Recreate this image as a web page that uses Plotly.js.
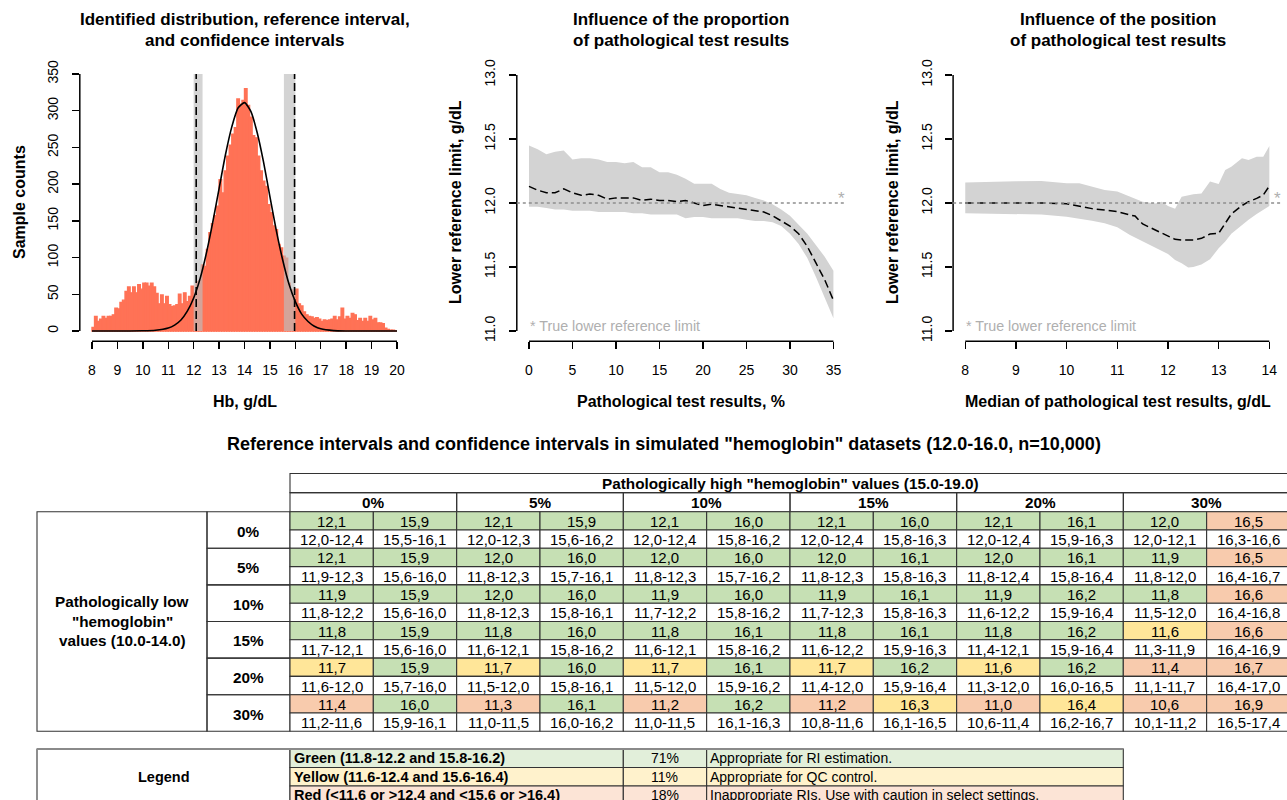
<!DOCTYPE html>
<html><head><meta charset="utf-8">
<script src="https://cdn.plot.ly/plotly-3.0.1.min.js"></script>
<style>html,body{margin:0;padding:0;background:#fff}#chart{width:1287px;height:800px}</style>
</head><body><div id="chart"></div>
<script>
// ---------------- DATA ----------------
// Panel 1: histogram of Hb values (bins of 0.1 g/dL starting at 8.0)
const histStart = 8.0;
const histBinWidth = 0.1;
const histCounts = [
  5,20,13,16,20,17,20,20,22,31,
  30,39,42,54,60,52,60,52,63,57,
  65,65,61,65,60,51,37,49,37,47,
  36,33,34,36,50,37,52,40,47,61,
  52,67,69,90,88,111,134,146,157,170,
  206,188,218,238,253,268,277,316,309,314,
  330,307,291,266,263,238,218,204,197,172,
  161,143,138,118,113,102,99,65,56,49,
  57,37,34,26,22,20,19,17,18,16,
  13,15,14,15,16,20,15,19,31,16,
  20,17,24,22,14,17,13,17,13,20,
  15,17,11,11,10,4,2,1,1,0];
// identified distribution
const curveX = [8,9,10,10.5,11,11.25,11.5,11.75,12,12.25,12.5,12.75,13,13.25,13.5,13.75,14,14.25,14.5,14.75,15,15.25,15.5,15.75,16,16.25,16.5,16.75,17,17.5,18,19,20];
const curveY = [0,0,0.3,1,4,8,15,27,45,71,106,148,194,240,278,304,311,299,270,230,183,137,97,64,40,23,13,6.5,3,0.6,0.1,0,0];
const riLimits = [12.1, 15.97];        // reference limits (dashed)
const ciLowerLimit = [12.0, 12.35];    // CI of lower limit (grey band)
const ciUpperLimit = [15.55, 16.0];    // CI of upper limit (grey band)
const histXTicks = [8,9,10,11,12,13,14,15,16,17,18,19,20];
const histYTicks = [0,50,100,150,200,250,300,350];

// Panel 2: influence of proportion of pathological results
const propX = [0,1,2,3,4,5,6,7,8,9,10,11,12,13,14,15,16,17,18,19,20,21,22,23,24,25,26,27,28,29,30,31,32,33,34,35];
const propMedian = [12.13,12.10,12.08,12.08,12.11,12.08,12.06,12.07,12.06,12.03,12.04,12.04,12.04,12.02,12.03,12.02,12.02,12.01,12.02,12.00,11.98,11.99,11.98,11.97,11.96,11.95,11.94,11.93,11.90,11.86,11.82,11.76,11.66,11.53,11.40,11.24];
const propUpper = [12.45,12.42,12.38,12.40,12.41,12.34,12.35,12.35,12.34,12.32,12.32,12.31,12.32,12.28,12.28,12.24,12.24,12.22,12.19,12.15,12.15,12.15,12.11,12.08,12.07,12.06,12.04,12.02,11.99,11.95,11.90,11.83,11.76,11.67,11.58,11.47];
const propLower = [11.97,11.97,11.96,11.95,11.95,11.94,11.94,11.94,11.93,11.93,11.93,11.93,11.92,11.92,11.91,11.91,11.91,11.91,11.88,11.89,11.89,11.88,11.88,11.88,11.88,11.87,11.86,11.86,11.85,11.82,11.76,11.68,11.57,11.42,11.26,11.10];
const propTicks = [0,5,10,15,20,25,30,35];

// Panel 3: influence of position of pathological results
const posX = [8,8.5,9,9.5,10,10.25,10.5,10.75,11,11.25,11.35,11.5,11.75,11.88,12,12.14,12.27,12.4,12.5,12.66,12.83,13,13.13,13.25,13.46,13.59,13.75,13.88,14];
const posUpper = [12.16,12.167,12.17,12.172,12.154,12.154,12.125,12.102,12.089,12.049,12.03,12.01,11.997,12.01,11.977,11.956,12.049,12.06,12.068,12.075,12.167,12.148,12.258,12.284,12.349,12.336,12.362,12.362,12.445];
const posLower = [11.92,11.917,11.914,11.91,11.893,11.88,11.862,11.841,11.81,11.75,11.73,11.698,11.646,11.625,11.602,11.555,11.53,11.497,11.50,11.52,11.56,11.646,11.70,11.76,11.83,11.87,11.914,11.945,11.977];
const posMedian = [12.0,12.0,12.005,12.0,11.995,11.977,11.956,11.945,11.932,11.906,11.898,11.836,11.789,11.765,11.742,11.716,11.711,11.711,11.711,11.724,11.758,11.763,11.841,11.914,11.98,12.01,12.036,12.062,12.133];
const posTicks = [8,9,10,11,12,13,14];

const trueLowerLimit = 12.0;
const limitTicks = [11,11.5,12,12.5,13];
const limitTickText = ['11.0','11.5','12.0','12.5','13.0'];

// Table
const tableTitle = 'Reference intervals and confidence intervals in simulated "hemoglobin" datasets (12.0-16.0, n=10,000)';
const highHeader = 'Pathologically high "hemoglobin" values (15.0-19.0)';
const lowHeaderLines = ['Pathologically low', '"hemoglobin"', 'values (10.0-14.0)'];
const lowLevels = ['0%','5%','10%','15%','20%','30%'];
const highLevels = ['0%','5%','10%','15%','20%','30%'];
const lowerRI = [
 ['12,1','12,1','12,1','12,1','12,1','12,0'],
 ['12,1','12,0','12,0','12,0','12,0','11,9'],
 ['11,9','12,0','11,9','11,9','11,9','11,8'],
 ['11,8','11,8','11,8','11,8','11,8','11,6'],
 ['11,7','11,7','11,7','11,7','11,6','11,4'],
 ['11,4','11,3','11,2','11,2','11,0','10,6']];
const lowerCI = [
 ['12,0-12,4','12,0-12,3','12,0-12,4','12,0-12,4','12,0-12,4','12,0-12,1'],
 ['11,9-12,3','11,8-12,3','11,8-12,3','11,8-12,3','11,8-12,4','11,8-12,0'],
 ['11,8-12,2','11,8-12,3','11,7-12,2','11,7-12,3','11,6-12,2','11,5-12,0'],
 ['11,7-12,1','11,6-12,1','11,6-12,1','11,6-12,2','11,4-12,1','11,3-11,9'],
 ['11,6-12,0','11,5-12,0','11,5-12,0','11,4-12,0','11,3-12,0','11,1-11,7'],
 ['11,2-11,6','11,0-11,5','11,0-11,5','10,8-11,6','10,6-11,4','10,1-11,2']];
const upperRI = [
 ['15,9','15,9','16,0','16,0','16,1','16,5'],
 ['15,9','16,0','16,0','16,1','16,1','16,5'],
 ['15,9','16,0','16,0','16,1','16,2','16,6'],
 ['15,9','16,0','16,1','16,1','16,2','16,6'],
 ['15,9','16,0','16,1','16,2','16,2','16,7'],
 ['16,0','16,1','16,2','16,3','16,4','16,9']];
const upperCI = [
 ['15,5-16,1','15,6-16,2','15,8-16,2','15,8-16,3','15,9-16,3','16,3-16,6'],
 ['15,6-16,0','15,7-16,1','15,7-16,2','15,8-16,3','15,8-16,4','16,4-16,7'],
 ['15,6-16,0','15,8-16,1','15,8-16,2','15,8-16,3','15,9-16,4','16,4-16,8'],
 ['15,6-16,0','15,8-16,2','15,8-16,2','15,9-16,3','15,9-16,4','16,4-16,9'],
 ['15,7-16,0','15,8-16,1','15,9-16,2','15,9-16,4','16,0-16,5','16,4-17,0'],
 ['15,9-16,1','16,0-16,2','16,1-16,3','16,1-16,5','16,2-16,7','16,5-17,4']];
const greenLimits = {lower:[11.8,12.2], upper:[15.8,16.2]};
const yellowLimits = {lower:[11.6,12.4], upper:[15.6,16.4]};

// Legend table
const legendTitle = 'Legend';
const legendLabels = ['Green (11.8-12.2 and 15.8-16.2)','Yellow (11.6-12.4 and 15.6-16.4)','Red (&lt;11.6 or &gt;12.4 and &lt;15.6 or &gt;16.4)'];
const legendShares = ['71%','11%','18%'];
const legendNotes = ['Appropriate for RI estimation.','Appropriate for QC control.','Inappropriate RIs. Use with caution in select settings.'];

// ---------------- STYLE ----------------
const FONT = 'Liberation Sans, Arial, Helvetica, sans-serif';
const W = 1287, H = 800;
const fx = p => p / W, fy = p => 1 - p / H;
const cellColors = {green:'#C6E0B4', yellow:'#FFE699', red:'#F8CBAD'};
const legendColors = ['#E2EFDA','#FFF2CC','#FCE4D6'];
const barColor = '#FF7256';
const grey = '#AFAFAF';
const shapes = [], annotations = [];

function txt(text, x, y, opt) {
  opt = opt || {};
  const font = Object.assign({family: FONT, size: 14, color: '#000'}, opt.font || {});
  const a = Object.assign({text, x: fx(x), y: fy(y), xref:'paper', yref:'paper', showarrow:false,
    xanchor:'center', yanchor:'middle', borderpad:0}, opt);
  a.font = font;
  annotations.push(a);
}
function rect(x0, y0, x1, y1, fill, lw) {
  shapes.push({type:'rect', xref:'paper', yref:'paper', x0:fx(x0), x1:fx(x1), y0:fy(y0), y1:fy(y1),
    fillcolor: fill || 'rgba(0,0,0,0)', line:{color:'#333333', width: lw === undefined ? 1.1 : lw}, layer:'above'});
}

// ---------------- TRACES ----------------
const traces = [];
// Panel 1
traces.push({type:'bar', x: histCounts.map((_, i) => histStart + i * histBinWidth), y: histCounts,
  width: histBinWidth, offset: 0, marker:{color: barColor, line:{width:1.4, color: barColor}}, xaxis:'x', yaxis:'y', hoverinfo:'skip'});
const yTop = histYTicks[histYTicks.length - 1];
[ciLowerLimit, ciUpperLimit].forEach(b => {
  traces.push({type:'scatter', mode:'lines', x:[b[0], b[1], b[1], b[0], b[0]], y:[0, 0, yTop, yTop, 0],
    fill:'toself', fillcolor:'rgba(190,190,190,0.66)', line:{width:0}, xaxis:'x', yaxis:'y', hoverinfo:'skip'});
});
traces.push({type:'scatter', mode:'lines', x: curveX, y: curveY, line:{color:'#000', width:1.6, shape:'spline', smoothing:0.6},
  xaxis:'x', yaxis:'y', hoverinfo:'skip'});
riLimits.forEach(r => {
  traces.push({type:'scatter', mode:'lines', x:[r, r], y:[0, yTop], line:{color:'#000', width:1.6, dash:'8px,4px'},
    xaxis:'x', yaxis:'y', hoverinfo:'skip'});
});
// Panel 2
traces.push({type:'scatter', mode:'lines', x: propX, y: propLower, line:{width:0}, xaxis:'x2', yaxis:'y2', hoverinfo:'skip'});
traces.push({type:'scatter', mode:'lines', x: propX, y: propUpper, line:{width:0}, fill:'tonexty', fillcolor:'#D3D3D3', xaxis:'x2', yaxis:'y2', hoverinfo:'skip'});
traces.push({type:'scatter', mode:'lines', x: propX, y: propMedian, line:{color:'#000', width:1.5, dash:'8px,4px'}, xaxis:'x2', yaxis:'y2', hoverinfo:'skip'});
// Panel 3
traces.push({type:'scatter', mode:'lines', x: posX, y: posLower, line:{width:0}, xaxis:'x3', yaxis:'y3', hoverinfo:'skip'});
traces.push({type:'scatter', mode:'lines', x: posX, y: posUpper, line:{width:0}, fill:'tonexty', fillcolor:'#D3D3D3', xaxis:'x3', yaxis:'y3', hoverinfo:'skip'});
traces.push({type:'scatter', mode:'lines', x: posX, y: posMedian, line:{color:'#000', width:1.5, dash:'8px,4px'}, xaxis:'x3', yaxis:'y3', hoverinfo:'skip'});

// ---------------- AXES ----------------
const tickFont = {family: FONT, size: 14, color: '#000'};
function xAxis(dom, range, ticks, text) {
  return {domain:[fx(dom[0]), fx(dom[1])], range, tickvals: ticks, ticktext: text || ticks.map(String),
    ticks:'outside', ticklen:7, tickwidth:1.4, tickcolor:'#000', showline:false, showgrid:false, zeroline:false,
    tickfont: tickFont, ticklabelstandoff: 9, fixedrange:true};
}
function yAxis(dom, range, ticks, text) {
  return {domain:[fy(dom[1]), fy(dom[0])], range, tickvals: ticks, ticktext: text || ticks.map(String),
    ticks:'outside', ticklen:7, tickwidth:1.4, tickcolor:'#000', showline:false, showgrid:false, zeroline:false,
    tickfont: tickFont, tickangle:-90, ticklabelstandoff: 8, fixedrange:true};
}
// axis lines spanning first to last tick (R style)
function axisLines(xr, yr, xt, yt) {
  shapes.push({type:'line', xref: xr, yref: yr + ' domain', x0: xt[0], x1: xt[xt.length-1], y0:0, y1:0, line:{color:'#000', width:1.5}});
  shapes.push({type:'line', xref: xr + ' domain', yref: yr, x0:0, x1:0, y0: yt[0], y1: yt[yt.length-1], line:{color:'#000', width:1.5}});
}
axisLines('x', 'y', histXTicks, histYTicks);
axisLines('x2', 'y2', propTicks, limitTicks);
axisLines('x3', 'y3', posTicks, limitTicks);

// true limit dotted lines + asterisks + note
[['x2','y2', propTicks[0]], ['x3','y3', posTicks[0]]].forEach(([xa, ya, x0]) => {
  shapes.push({type:'line', xref: xa + ' domain', yref: ya, x0:0, x1:1, y0: trueLowerLimit, y1: trueLowerLimit,
    line:{color:'#8E8E8E', width:1.6, dash:'dot'}});
  annotations.push({text:'*', xref: xa + ' domain', yref: ya, x:0.988, y: trueLowerLimit, xanchor:'center', yanchor:'middle',
    yshift:5, showarrow:false, font:{family:FONT, size:17, color: grey}});
  annotations.push({text:'* True lower reference limit', xref: xa, yref: ya, x: x0, y: limitTicks[0], xanchor:'left',
    yanchor:'middle', yshift:5, showarrow:false, borderpad:0, font:{family:FONT, size:14.3, color: grey}});
});

// ---------------- TITLES ----------------
const titleFont = {size:17};
txt('<b>Identified distribution, reference interval,</b>', 244.5, 19, {font:titleFont});
txt('<b>and confidence intervals</b>', 244.5, 40, {font:titleFont});
txt('<b>Influence of the proportion</b>', 681, 19, {font:titleFont});
txt('<b>of pathological test results</b>', 681, 40, {font:titleFont});
txt('<b>Influence of the position</b>', 1117.5, 19, {font:titleFont});
txt('<b>of pathological test results</b>', 1117.5, 40, {font:titleFont});
const axTitleFont = {size:16};
txt('<b>Hb, g/dL</b>', 244.5, 402, {font:axTitleFont});
txt('<b>Pathological test results, %</b>', 681, 402, {font:axTitleFont});
txt('<b>Median of pathological test results, g/dL</b>', 1117.5, 402, {font:axTitleFont});
txt('<b>Sample counts</b>', 20, 202, {font:axTitleFont, textangle:-90});
txt('<b>Lower reference limit, g/dL</b>', 456, 202, {font:axTitleFont, textangle:-90});
txt('<b>Lower reference limit, g/dL</b>', 893, 202, {font:axTitleFont, textangle:-90});

// ---------------- TABLE ----------------
const T = {left:290, outerLeft:37, labelLeft:207, grpW:166.67, subW:83.33, hdrTop:473.5, hdrH:19.1, bodyTop:511.7, subH:18.3};
const cellFont = {size:15};
const headFont = {size:15.3};
txt('<b>' + tableTitle + '</b>', 664, 444, {font:{size:18}});

function classify(str, kind) {
  const v = parseFloat(str.replace(',', '.'));
  const inR = r => v >= r[0] - 1e-9 && v <= r[1] + 1e-9;
  if (inR(greenLimits[kind])) return cellColors.green;
  if (inR(yellowLimits[kind])) return cellColors.yellow;
  return cellColors.red;
}
const nG = highLevels.length;
rect(T.left, T.hdrTop, T.left + nG * T.grpW, T.hdrTop + T.hdrH);
txt('<b>' + highHeader + '</b>', T.left + nG * T.grpW / 2, T.hdrTop + T.hdrH / 2 + 0.5, {font:headFont});
highLevels.forEach((h, j) => {
  rect(T.left + j * T.grpW, T.hdrTop + T.hdrH, T.left + (j + 1) * T.grpW, T.bodyTop);
  txt('<b>' + h + '</b>', T.left + (j + 0.5) * T.grpW, (T.hdrTop + T.hdrH + T.bodyTop) / 2 + 0.5, {font:headFont});
});
rect(T.outerLeft, T.bodyTop, T.labelLeft, T.bodyTop + 2 * lowLevels.length * T.subH);
const lblMid = T.bodyTop + lowLevels.length * T.subH;
lowHeaderLines.forEach((l, k) => txt('<b>' + l + '</b>', (T.outerLeft + T.labelLeft) / 2, lblMid - 19.8 + k * 19.8 - 0.5, {font:headFont}));
lowLevels.forEach((lv, i) => {
  const top = T.bodyTop + 2 * i * T.subH;
  rect(T.labelLeft, top, T.left, top + 2 * T.subH);
  txt('<b>' + lv + '</b>', (T.labelLeft + T.left) / 2, top + T.subH + 1, {font:headFont});
  highLevels.forEach((h, j) => {
    const cells = [[lowerRI[i][j], lowerCI[i][j], 'lower'], [upperRI[i][j], upperCI[i][j], 'upper']];
    cells.forEach(([ri, ci, kind], k) => {
      const x0 = T.left + (2 * j + k) * T.subW;
      rect(x0, top, x0 + T.subW, top + T.subH, classify(ri, kind));
      rect(x0, top + T.subH, x0 + T.subW, top + 2 * T.subH, '#FFFFFF');
      txt(ri, x0 + T.subW / 2, top + T.subH / 2 + 0.5, {font:cellFont});
      txt(ci, x0 + T.subW / 2, top + 1.5 * T.subH + 0.5, {font:cellFont});
    });
  });
});

// ---------------- LEGEND TABLE ----------------
const L = {top:749, rowH:18.5, c1:T.left, c2:T.left + 4 * T.subW, c3:T.left + 5 * T.subW, right:T.left + 10 * T.subW};
rect(T.outerLeft, L.top, L.c1, L.top + 3 * L.rowH);
txt('<b>' + legendTitle + '</b>', (T.outerLeft + L.c1) / 2, L.top + 1.5 * L.rowH, {font:{size:14.5}});
legendLabels.forEach((lab, k) => {
  const t = L.top + k * L.rowH;
  rect(L.c1, t, L.c2, t + L.rowH, legendColors[k]);
  rect(L.c2, t, L.c3, t + L.rowH, legendColors[k]);
  rect(L.c3, t, L.right, t + L.rowH, legendColors[k]);
  txt('<b>' + lab + '</b>', L.c1 + 3, t + L.rowH / 2, {xanchor:'left', font:{size:14.5}});
  txt(legendShares[k], (L.c2 + L.c3) / 2, t + L.rowH / 2, {font:{size:14}});
  txt(legendNotes[k], L.c3 + 2, t + L.rowH / 2, {xanchor:'left', font:{size:14}});
});
shapes.push({type:'line', xref:'paper', yref:'paper', x0:fx(T.outerLeft), x1:fx(L.right), y0:fy(L.top), y1:fy(L.top), line:{color:'#8a8a8a', width:2}});

// ---------------- LAYOUT ----------------
const layout = {
  width: W, height: H, margin:{l:0, r:0, t:0, b:0, pad:0},
  paper_bgcolor:'#fff', plot_bgcolor:'rgba(0,0,0,0)', showlegend:false,
  font:{family: FONT, color:'#000'},
  xaxis: xAxis([79.8, 409.2], [7.52, 20.48], histXTicks),
  yaxis: yAxis([63.7, 341.3], [-14, 364], histYTicks),
  xaxis2: xAxis([516.8, 845.6], [-1.4, 36.4], propTicks),
  yaxis2: yAxis([64.76, 341.24], [10.92, 13.08], limitTicks, limitTickText),
  xaxis3: xAxis([953.1, 1281.5], [7.76, 14.24], posTicks),
  yaxis3: yAxis([64.76, 341.24], [10.92, 13.08], limitTicks, limitTickText),
  shapes, annotations
};
layout.xaxis.anchor = 'y'; layout.yaxis.anchor = 'x';
layout.xaxis2.anchor = 'y2'; layout.yaxis2.anchor = 'x2';
layout.xaxis3.anchor = 'y3'; layout.yaxis3.anchor = 'x3';

Plotly.newPlot('chart', traces, layout, {staticPlot:true, displayModeBar:false});
</script>
</body></html>
